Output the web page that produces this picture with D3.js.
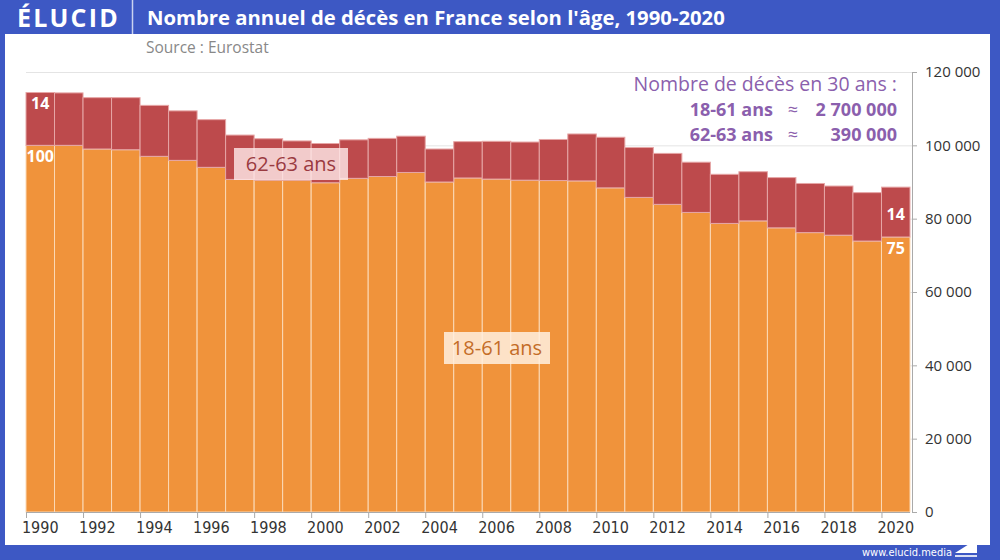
<!DOCTYPE html>
<html><head><meta charset="utf-8">
<script src="https://cdn.jsdelivr.net/npm/d3@7"></script>
<style>
html,body{margin:0;padding:0;background:#3d58c4;}
svg{display:block;}
</style></head>
<body>
<svg id="chart" width="1000" height="560"></svg>
<script>
const years = d3.range(1990, 2021);
const deaths1861 = [100000,100000,99000,98800,97000,95900,94000,90700,90500,90500,89800,91000,91500,92600,90000,91100,90800,90500,90400,90300,88400,85800,83900,81700,78700,79400,77500,76200,75500,73900,75000];
const totals = [114400,114300,113000,113000,110900,109400,107000,102800,101800,101200,100500,101500,101900,102500,99000,101000,101100,100900,101600,103100,102200,99400,97800,95400,92100,92800,91200,89600,88900,87100,88600];
const deaths6263 = totals.map((t,i)=>t-deaths1861[i]);
const yTicks = [0,20000,40000,60000,80000,100000,120000];
const xTickYears = d3.range(1990, 2021, 2);
const seriesNames = ["18-61 ans", "62-63 ans"];
const totals30 = ["2 700 000", "390 000"];

const svg = d3.select("#chart");
const blue = "#3d58c4", orange = "#f0933b", red = "#bd4a4c", purple = "#8b5fad";
const font = "'Open Sans', Lato, sans-serif";
const narrow = "'Liberation Sans Narrow','DejaVu Sans Condensed',sans-serif";

// frame
svg.append("rect").attr("width",1000).attr("height",560).attr("fill",blue);
svg.append("rect").attr("x",5).attr("y",34).attr("width",985).attr("height",511).attr("fill","#fff");

// header
svg.append("text").attr("x",17).attr("y",27).attr("fill","#fff").attr("font-family",font)
  .attr("font-weight",700).attr("font-size",25).attr("letter-spacing",2.2).text("ÉLUCID");
svg.append("line").attr("x1",132.5).attr("x2",132.5).attr("y1",0).attr("y2",34).attr("stroke","#c9d2f0").attr("stroke-width",1.5);
svg.append("text").attr("x",147).attr("y",25).attr("fill","#fff").attr("font-family",font)
  .attr("font-weight",700).attr("font-size",20.3).text("Nombre annuel de décès en France selon l'âge, 1990-2020");
svg.append("text").attr("x",146).attr("y",53).attr("fill","#888").attr("font-family",font)
  .attr("font-size",15.5).text("Source : Eurostat");

// footer
svg.append("text").attr("x",952).attr("y",556).attr("text-anchor","end").attr("fill","#fff")
  .attr("font-family",narrow).attr("font-size",11).text("www.elucid.media");
svg.append("path").attr("d","M955,553 L977,539 L977,553 Z").attr("fill","#fff");
svg.append("path").attr("d","M955,555 L977,555 L977,557 L955,557 Z").attr("fill","#fff").attr("opacity",0.8);

// scales
const x = d3.scaleBand().domain(years).range([26,910]).padding(0);
const y = d3.scaleLinear().domain([0,120000]).range([512,72]);

// gridlines
svg.append("g").selectAll("line").data(yTicks.filter(d=>d>0)).join("line")
  .attr("x1",26).attr("x2",912).attr("y1",d=>y(d)+0.5).attr("y2",d=>y(d)+0.5)
  .attr("stroke","#e4e4e4").attr("stroke-width",1);

// bars
const g = svg.append("g");
g.selectAll("rect.o").data(years).join("rect").attr("class","o")
  .attr("x",d=>x(d)).attr("width",x.bandwidth())
  .attr("y",(d,i)=>y(deaths1861[i])).attr("height",(d,i)=>y(0)-y(deaths1861[i]))
  .attr("fill",orange).attr("stroke","#fbd9b6").attr("stroke-width",1);
g.selectAll("rect.r").data(years).join("rect").attr("class","r")
  .attr("x",d=>x(d)).attr("width",x.bandwidth())
  .attr("y",(d,i)=>y(totals[i])).attr("height",(d,i)=>y(deaths1861[i])-y(totals[i]))
  .attr("fill",red).attr("stroke","#e6a6a6").attr("stroke-width",1);

// right axis
const fmt = v => d3.format(",")(v).replace(/,/g," ");
const ya = svg.append("g").attr("transform","translate(912,0)")
  .call(d3.axisRight(y).tickValues(yTicks).tickFormat(fmt).tickSize(5).tickPadding(8));
ya.select(".domain").attr("stroke","#aaa");
ya.selectAll(".tick line").attr("stroke","#aaa");
ya.selectAll("text").attr("font-family",font).attr("font-size",15).attr("fill","#333");

// bottom axis
const xs = d3.scaleLinear().domain([1990,2021]).range([26,910]);
const xa = svg.append("g").attr("transform","translate(0,512)");
xa.append("line").attr("x1",26).attr("x2",910).attr("y1",0.5).attr("y2",0.5).attr("stroke","#aaa");
xa.selectAll("line.t").data(xTickYears).join("line").attr("class","t")
  .attr("x1",d=>xs(d)+0.5).attr("x2",d=>xs(d)+0.5).attr("y1",0).attr("y2",6).attr("stroke","#aaa");
xa.selectAll("text").data(xTickYears).join("text")
  .attr("x",d=>x(d)+x.bandwidth()/2).attr("y",21).attr("text-anchor","middle")
  .attr("font-family",narrow).attr("font-size",16).attr("fill","#333")
  .text(d=>d);

// in-bar value labels
const lab = (xx,yy,t)=>svg.append("text").attr("x",xx).attr("y",yy).attr("text-anchor","middle")
  .attr("fill","#fff").attr("font-family",font).attr("font-weight",700).attr("font-size",16).text(t);
const i0 = 0, iN = years.length-1;
lab(x(years[i0])+x.bandwidth()/2, (y(totals[i0])+y(deaths1861[i0]))/2-10, Math.round(deaths6263[i0]/1000));
lab(x(years[i0])+x.bandwidth()/2, y(deaths1861[i0])+17, Math.round(deaths1861[i0]/1000));
lab(x(years[iN])+x.bandwidth()/2, (y(totals[iN])+y(deaths1861[iN]))/2+8, Math.round(deaths6263[iN]/1000));
lab(x(years[iN])+x.bandwidth()/2, y(deaths1861[iN])+17, Math.round(deaths1861[iN]/1000));

// series labels
function tag(cx, cy, w, h, txt, fillBox, color){
  svg.append("rect").attr("x",cx-w/2).attr("y",cy-h/2).attr("width",w).attr("height",h)
    .attr("fill",fillBox);
  svg.append("text").attr("x",cx).attr("y",cy+7).attr("text-anchor","middle").attr("fill",color)
    .attr("font-family",font).attr("font-size",20).attr("font-weight",500).text(txt);
}
tag(291,164,114,32,seriesNames[1],"rgba(255,235,235,0.8)","#9a3a40");
tag(497,348,106,32,seriesNames[0],"rgba(255,240,225,0.85)","#c46d27");

// annotation
const ann = svg.append("g").attr("font-family",font).attr("fill",purple);
ann.append("text").attr("x",897).attr("y",91).attr("text-anchor","end").attr("font-size",19.5).text("Nombre de décès en 30 ans :");
[[seriesNames[0], totals30[0], 116],[seriesNames[1], totals30[1], 141]].forEach(([a,b,yy])=>{
  ann.append("text").attr("x",773).attr("y",yy).attr("text-anchor","end").attr("font-weight",700).attr("font-size",18).text(a);
  ann.append("text").attr("x",793).attr("y",yy).attr("text-anchor","middle").attr("font-size",18).text("≈");
  ann.append("text").attr("x",897).attr("y",yy).attr("text-anchor","end").attr("font-weight",700).attr("font-size",18).text(b);
});
</script>
</body></html>
